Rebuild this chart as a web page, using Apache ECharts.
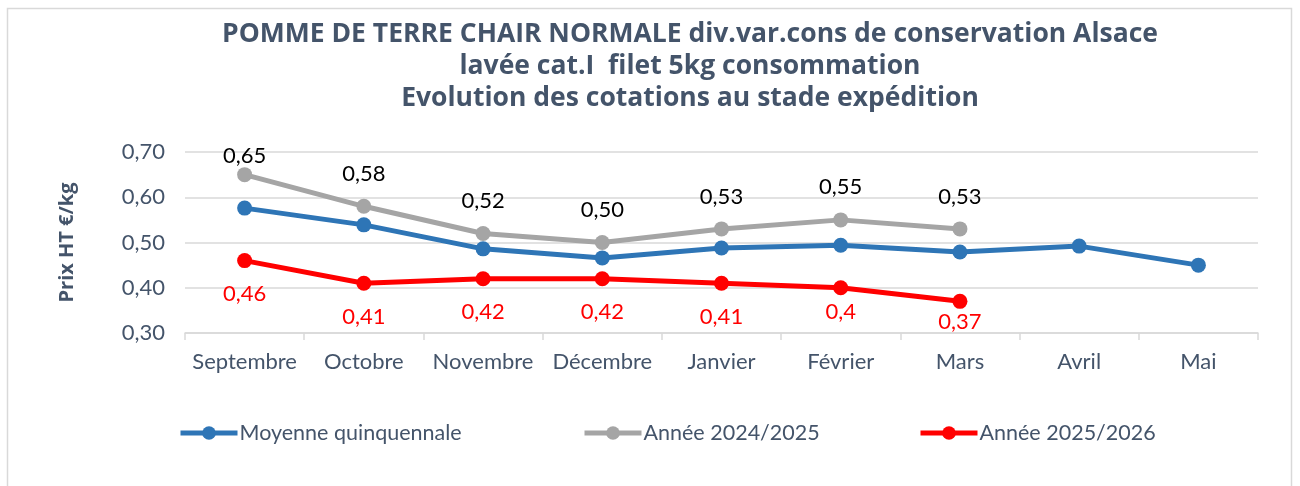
<!DOCTYPE html>
<html><head><meta charset="utf-8">
<script src="https://cdn.jsdelivr.net/npm/echarts@6/dist/echarts.min.js"></script>
<style>html,body{margin:0;padding:0;background:#fff}#c{width:1300px;height:486px}</style>
</head><body><div id="c"></div>
<script>
const categories = ['Septembre','Octobre','Novembre','Décembre','Janvier','Février','Mars','Avril','Mai'];
const moyenne = [0.576, 0.539, 0.486, 0.466, 0.488, 0.494, 0.479, 0.492, 0.450];
const annee2425 = [0.65, 0.58, 0.52, 0.50, 0.53, 0.55, 0.53];
const annee2526 = [0.46, 0.41, 0.42, 0.42, 0.41, 0.40, 0.37];
const yTicks = [0.30, 0.40, 0.50, 0.60, 0.70];
const seriesNames = ['Moyenne quinquennale','Année 2024/2025','Année 2025/2026'];
const titleLines = ['POMME DE TERRE CHAIR NORMALE div.var.cons de conservation Alsace','lavée cat.I  filet 5kg consommation','Evolution des cotations au stade expédition'];

const FONT = 'Lato';
const TXT = '#44546A';
const colors = ['#2E75B6','#A5A5A5','#FF0000'];
const grayDist = [0,14,14,14,14,14,14];
const redDist = [15,15,15,15,15,6,2];

const chart = echarts.init(document.getElementById('c'), null, {renderer:'canvas'});
function lineSeries(name, data, color, z){
  return {name, type:'line', data, z, color, symbol:'circle', symbolSize:15,
    lineStyle:{width:5,color}, itemStyle:{color}, emphasis:{disabled:true}};
}
const s0 = lineSeries(seriesNames[0], moyenne, colors[0], 3);
const s1 = lineSeries(seriesNames[1], annee2425.map((v,i)=>({value:v,label:{distance:grayDist[i]}})), colors[1], 2);
s1.label = {show:true, position:'top', color:'#000', fontFamily:FONT, fontSize:22,
  formatter:p=>p.value.toFixed(2).replace('.',',')};
const s2 = lineSeries(seriesNames[2], annee2526.map((v,i)=>({value:v,label:{distance:redDist[i]}})), colors[2], 4);
s2.label = {show:true, position:'bottom', color:'#FF0000', fontFamily:FONT, fontSize:22,
  formatter:p=>String(p.value).replace('.',',')};

const legendLeft = [173, 577, 913];
chart.setOption({
  animation:false,
  backgroundColor:'#fff',
  graphic:[{type:'rect', shape:{x:7.5,y:8.5,width:1284,height:500}, style:{fill:'none',stroke:'#D9D9D9',lineWidth:1.5}, silent:true}],
  title:{text:titleLines.join('\n'), left:685, top:13, textAlign:'center',
    textStyle:{fontFamily:'Open Sans', fontWeight:'bold', fontSize:26.5, color:TXT, lineHeight:32}},
  legend: seriesNames.map((n,i)=>({data:[n], left:legendLeft[i], top:417, itemWidth:57, itemHeight:17, itemGap:0,
    lineStyle:{width:5},
    textStyle:{fontFamily:FONT, fontSize:21.5, color:TXT, padding:[0,0,0,-3]}})),
  grid:{left:185, right:42, top:152, bottom:153, containLabel:false},
  xAxis:{type:'category', data:categories, boundaryGap:true,
    axisLine:{lineStyle:{color:'#D9D9D9',width:1.5}},
    axisTick:{show:true, interval:0, alignWithLabel:false, length:7, lineStyle:{color:'#D9D9D9',width:1.5}},
    axisLabel:{interval:0, fontFamily:FONT, fontSize:22, color:TXT, margin:18}},
  yAxis:{type:'value', min:yTicks[0], max:yTicks[yTicks.length-1], interval:0.1,
    name:'Prix HT €/kg', nameLocation:'middle', nameGap:108,
    nameTextStyle:{fontFamily:'Open Sans', fontWeight:'bold', fontSize:20, color:TXT},
    axisLine:{show:false}, axisTick:{show:false},
    splitLine:{lineStyle:{color:'#D9D9D9',width:1.5}},
    axisLabel:{fontFamily:FONT, fontSize:22, color:TXT, margin:20, formatter:v=>v.toFixed(2).replace('.',',')}},
  series:[s0,s1,s2]
});
</script></body></html>
